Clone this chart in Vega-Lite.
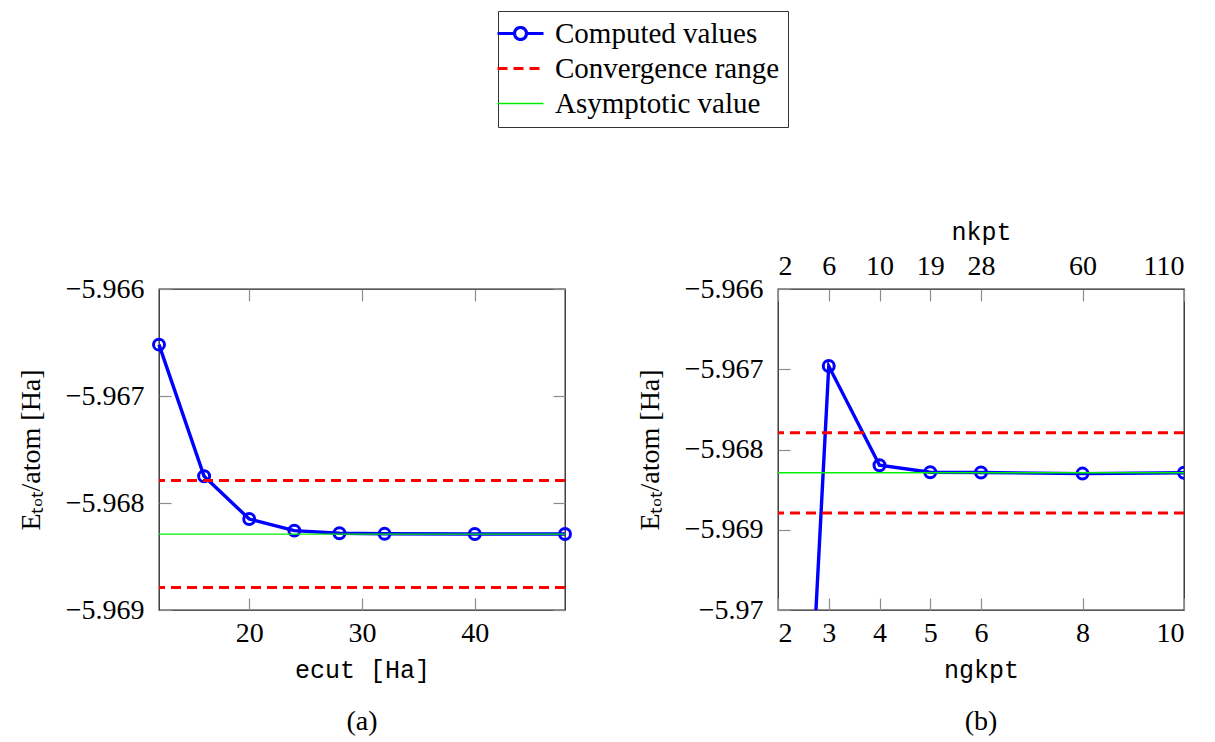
{
  "$schema": "https://vega.github.io/schema/vega-lite/v6.json",
  "background": "white",
  "padding": {"left": 16, "top": 10, "right": 10, "bottom": 6},
  "datasets": {
    "ecut": [
      {"ecut": 12, "E": -5.96652, "series": "Computed values"},
      {"ecut": 16, "E": -5.96775, "series": "Computed values"},
      {"ecut": 20, "E": -5.96815, "series": "Computed values"},
      {"ecut": 24, "E": -5.968258, "series": "Computed values"},
      {"ecut": 28, "E": -5.968283, "series": "Computed values"},
      {"ecut": 32, "E": -5.968288, "series": "Computed values"},
      {"ecut": 40, "E": -5.96829, "series": "Computed values"},
      {"ecut": 48, "E": -5.96829, "series": "Computed values"}
    ],
    "ngkpt": [
      {"ngkpt": 2, "E": -5.97902, "series": "Computed values"},
      {"ngkpt": 3, "E": -5.96696, "series": "Computed values"},
      {"ngkpt": 4, "E": -5.968196, "series": "Computed values"},
      {"ngkpt": 5, "E": -5.968283, "series": "Computed values"},
      {"ngkpt": 6, "E": -5.968287, "series": "Computed values"},
      {"ngkpt": 8, "E": -5.9683, "series": "Computed values"},
      {"ngkpt": 10, "E": -5.96829, "series": "Computed values"}
    ],
    "refs": [
      {"E": -5.96779, "series": "Convergence range"},
      {"E": -5.96879, "series": "Convergence range"},
      {"E": -5.96829, "series": "Asymptotic value"}
    ]
  },
  "config": {
    "view": {"stroke": "#222", "strokeWidth": 1.3},
    "axis": {
      "grid": false, "domain": false,
      "labelFont": "Liberation Serif", "labelFontSize": 28, "labelColor": "#000",
      "tickColor": "#8c8c8c", "tickSize": -12, "tickWidth": 1.2,
      "titleFont": "Liberation Serif", "titleFontSize": 28, "titleFontWeight": "normal", "titleColor": "#000",
      "labelPadding": 21
    },
    "title": {"font": "Liberation Serif", "fontSize": 28, "fontWeight": "normal", "color": "#000"}
  },
  "resolve": {"scale": {"color": "shared"}, "legend": {"color": "shared"}},
  "spacing": 57,
  "hconcat": [
    {
      "width": 406, "height": 321,
      "title": {"text": "(a)", "orient": "bottom", "offset": 26},
      "resolve": {"axis": {"x": "independent", "y": "independent"}},
      "layer": [
        {
          "data": {"name": "ecut"},
          "mark": {"type": "line", "strokeWidth": 3.4},
          "encoding": {
            "x": {"field": "ecut", "type": "quantitative", "scale": {"domain": [12, 48], "nice": false, "zero": false},
                  "axis": {"values": [20, 30, 40], "format": "d", "title": "ecut [Ha]", "titleFont": "Liberation Mono", "titleFontSize": 25, "titlePadding": 10}},
            "y": {"field": "E", "type": "quantitative", "scale": {"domain": [-5.969, -5.966], "nice": false, "zero": false},
                  "axis": {"values": [-5.969, -5.968, -5.967, -5.966], "format": ".3f", "title": "Eₜₒₜ/atom [Ha]", "titlePadding": 20, "labelPadding": 27}},
            "color": {"field": "series", "type": "nominal",
              "scale": {"domain": ["Computed values", "Convergence range", "Asymptotic value"], "range": ["#0000ff", "#ff0000", "#00ee00"]},
              "legend": {
                "orient": "none", "legendX": 339, "legendY": -278, "title": null, "direction": "vertical",
                "strokeColor": "#333", "fillColor": "white", "padding": 8,
                "labelFont": "Liberation Serif", "labelFontSize": 29, "labelColor": "#000", "labelLimit": 400,
                "labelOffset": 20, "symbolSize": 529, "rowPadding": 5, "symbolStrokeWidth": 3.2,
                "encode": {"symbols": {"update": {
                  "shape": {"signal": "datum.value === 'Computed values' ? 'M-2,0H-0.55M0.55,0H2M0.52,0A0.52,0.52 0 1,1 -0.52,0A0.52,0.52 0 1,1 0.52,0' : 'M-2,0H2'"},
                  "strokeDash": {"signal": "datum.value === 'Convergence range' ? [10,6] : [1,0]"},
                  "strokeWidth": {"signal": "datum.value === 'Asymptotic value' ? 1.3 : 3.2"},
                  "fill": {"value": "transparent"},
                  "opacity": {"value": 1}
                }}}
              }}
          }
        },
        {
          "data": {"name": "ecut"},
          "mark": {"type": "point", "filled": false, "size": 120, "strokeWidth": 3, "color": "#0000ff", "opacity": 1},
          "encoding": {
            "x": {"field": "ecut", "type": "quantitative", "axis": {"orient": "top", "values": [20, 30, 40], "labels": false, "title": null}},
            "y": {"field": "E", "type": "quantitative", "axis": {"orient": "right", "values": [-5.969, -5.968, -5.967, -5.966], "labels": false, "title": null}}
          }
        },
        {
          "data": {"name": "refs"},
          "transform": [{"filter": "datum.series === 'Convergence range'"}],
          "mark": {"type": "rule", "strokeWidth": 3, "strokeDash": [10, 6]},
          "encoding": {
            "y": {"field": "E", "type": "quantitative", "axis": null},
            "color": {"field": "series", "type": "nominal"}
          }
        },
        {
          "data": {"name": "refs"},
          "transform": [{"filter": "datum.series === 'Asymptotic value'"}],
          "mark": {"type": "rule", "strokeWidth": 1.3},
          "encoding": {
            "y": {"field": "E", "type": "quantitative", "axis": null},
            "color": {"field": "series", "type": "nominal"}
          }
        }
      ]
    },
    {
      "width": 406, "height": 321,
      "title": {"text": "(b)", "orient": "bottom", "offset": 26},
      "resolve": {"axis": {"x": "independent", "y": "independent"}},
      "layer": [
        {
          "data": {"name": "ngkpt"},
          "mark": {"type": "line", "strokeWidth": 3.4, "clip": true},
          "encoding": {
            "x": {"field": "ngkpt", "type": "quantitative", "scale": {"domain": [2, 10], "nice": false, "zero": false},
                  "axis": {"values": [2, 3, 4, 5, 6, 8, 10], "format": "d", "title": "ngkpt", "titleFont": "Liberation Mono", "titleFontSize": 25, "titlePadding": 10}},
            "y": {"field": "E", "type": "quantitative", "scale": {"domain": [-5.97, -5.966], "nice": false, "zero": false},
                  "axis": {"values": [-5.97, -5.969, -5.968, -5.967, -5.966], "format": ".4~r", "title": "Eₜₒₜ/atom [Ha]", "titlePadding": 20, "labelPadding": 27}},
            "color": {"field": "series", "type": "nominal"}
          }
        },
        {
          "data": {"name": "ngkpt"},
          "mark": {"type": "point", "filled": false, "size": 120, "strokeWidth": 3, "color": "#0000ff", "opacity": 1, "clip": true},
          "encoding": {
            "x": {"field": "ngkpt", "type": "quantitative",
                  "axis": {"orient": "top", "values": [2, 3, 4, 5, 6, 8, 10],
                           "labelExpr": "datum.value == 3 ? '6' : datum.value == 4 ? '10' : datum.value == 5 ? '19' : datum.value == 6 ? '28' : datum.value == 8 ? '60' : datum.value == 10 ? '110' : '2'",
                           "title": "nkpt", "titleFont": "Liberation Mono", "titleFontSize": 25, "titlePadding": 8}},
            "y": {"field": "E", "type": "quantitative", "axis": null}
          }
        },
        {
          "data": {"name": "refs"},
          "transform": [{"filter": "datum.series === 'Convergence range'"}],
          "mark": {"type": "rule", "strokeWidth": 3, "strokeDash": [10, 6]},
          "encoding": {
            "y": {"field": "E", "type": "quantitative", "axis": null},
            "color": {"field": "series", "type": "nominal"}
          }
        },
        {
          "data": {"name": "refs"},
          "transform": [{"filter": "datum.series === 'Asymptotic value'"}],
          "mark": {"type": "rule", "strokeWidth": 1.3},
          "encoding": {
            "y": {"field": "E", "type": "quantitative", "axis": null},
            "color": {"field": "series", "type": "nominal"}
          }
        }
      ]
    }
  ]
}
